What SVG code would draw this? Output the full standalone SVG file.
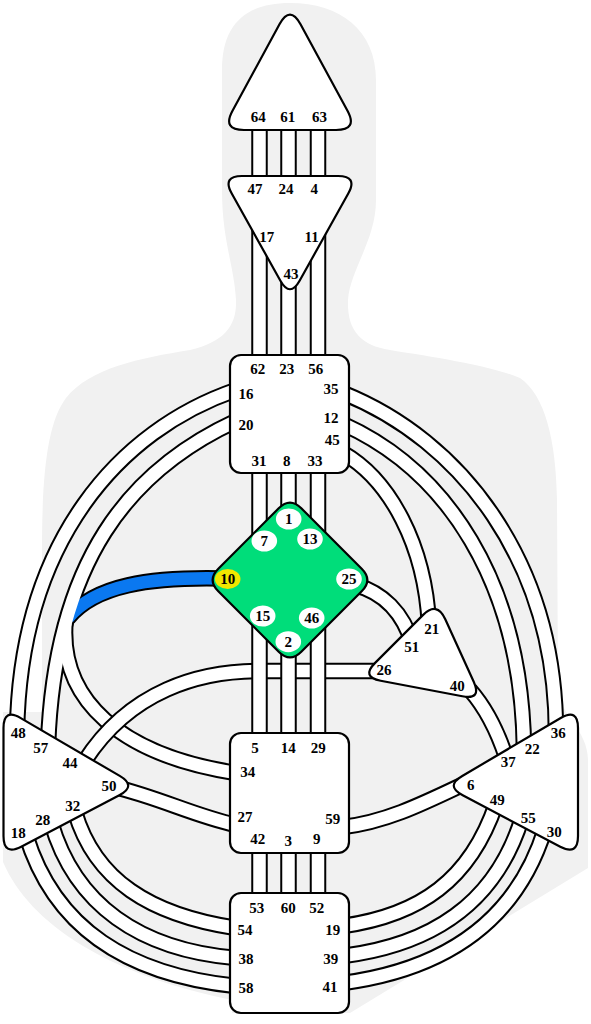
<svg xmlns="http://www.w3.org/2000/svg" width="591" height="1024" viewBox="0 0 591 1024">
<style>
.cb{fill:none;stroke:#000;stroke-width:16.5}
.cw{fill:none;stroke:#fff;stroke-width:12.5}
.cblue{fill:none;stroke:#0a78f0;stroke-width:12.5}
.node{fill:#fff;stroke:#000;stroke-width:2.2}
.gc{fill:#00dd7a;stroke:#000;stroke-width:2.2}
.dot{fill:#fff}
.act{fill:#f2e600}
text{font-family:"Liberation Serif","Times New Roman",serif;font-weight:bold;font-size:15px;text-anchor:middle;fill:#000}
</style>
<defs>
<path id="c16" d="M 236 390 C 120 430, 20 540, 17 732"/>
<path id="c20" d="M 236 421 C 130 470, 55 560, 48 745"/>
<path id="c34" d="M 65.4 623.2 C 60 700, 120 755, 236 773"/>
<path id="c10" d="M 222 578.5 C 150 577, 95 585, 68 618"/>
<path id="c44" d="M 84 762 C 130 690, 200 671, 260 671 L 378 671"/>
<path id="c27" d="M 115 787 C 160 798, 195 816, 236 825"/>
<path id="c32" d="M 75 812 C 95 880, 150 915, 236 928"/>
<path id="c28" d="M 51 822 C 75 905, 140 950, 236 958"/>
<path id="c18" d="M 26 835 C 55 930, 130 975, 236 986"/>
<path id="c35" d="M 343 393 C 460 440, 556 560, 556 734"/>
<path id="c12" d="M 343 424 C 445 470, 522 580, 524 750"/>
<path id="c45" d="M 343 453 C 390 480, 425 545, 429 625"/>
<path id="c40" d="M 470 690 Q 492 715 506 757"/>
<path id="c25" d="M 355 585 C 382 592, 403 612, 413 645"/>
<path id="c59" d="M 343 827 C 385 822, 420 805, 462 785"/>
<path id="c49" d="M 496 804 C 470 880, 420 915, 343 926"/>
<path id="c55" d="M 522 818 C 495 905, 430 945, 343 956"/>
<path id="c30" d="M 545 829 C 515 925, 440 970, 343 983"/>
<path id="vv" d="M 259.5 120 V 190 M 288.5 120 V 190 M 318 120 V 190 M 259.5 200 V 362 M 288.5 280 V 362 M 318 200 V 362 M 259.5 465 V 560 M 288.5 465 V 520 M 318 465 V 560 M 259.5 600 V 740 M 288.5 640 V 740 M 318 600 V 740 M 259.5 845 V 900 M 288.5 845 V 900 M 318 845 V 900"/>
</defs>

<path id="silhouette" fill="#f1f1f1" d="M 290 3 C 245 3, 222 25, 222 70 L 222 190 C 222 240, 234 265, 236 300 C 237 325, 225 342, 190 350 C 140 358, 90 368, 66 398 C 48 422, 42 470, 42 550 L 42 712 L 3 712 L 3 862 C 30 925, 110 975, 232 1000 L 232 1013 L 350 1013 L 588 868 L 588 760 C 588 730, 560 715, 558 690 L 557 500 C 556 440, 545 395, 520 378 C 490 365, 420 355, 390 350 C 360 345, 347 330, 348 300 C 350 270, 376 240, 376 200 L 376 80 C 376 30, 340 3, 290 3 Z"/>

<g id="connectors">
<use href="#c16" class="cb"/><use href="#c16" class="cw"/>
<use href="#c20" class="cb"/><use href="#c34" class="cb"/><use href="#c10" class="cb"/>
<use href="#c10" class="cblue"/><use href="#c20" class="cw"/><use href="#c34" class="cw"/>
<use href="#c44" class="cb"/><use href="#c44" class="cw"/>
<use href="#c27" class="cb"/><use href="#c27" class="cw"/>
<use href="#c32" class="cb"/><use href="#c32" class="cw"/>
<use href="#c28" class="cb"/><use href="#c28" class="cw"/>
<use href="#c18" class="cb"/><use href="#c18" class="cw"/>
<use href="#c35" class="cb"/><use href="#c35" class="cw"/>
<use href="#c12" class="cb"/><use href="#c12" class="cw"/>
<use href="#c45" class="cb"/><use href="#c45" class="cw"/>
<use href="#c40" class="cb"/><use href="#c40" class="cw"/>
<use href="#c25" class="cb"/><use href="#c25" class="cw"/>
<use href="#c59" class="cb"/><use href="#c59" class="cw"/>
<use href="#c49" class="cb"/><use href="#c49" class="cw"/>
<use href="#c55" class="cb"/><use href="#c55" class="cw"/>
<use href="#c30" class="cb"/><use href="#c30" class="cw"/>
<use href="#vv" class="cb"/><use href="#vv" class="cw"/>
</g>

<g id="head">
<path class="node" d="M 300.52 24.32 L 347.48 110.68 Q 358 130 336 130 L 244 130 Q 222 130 232.52 110.68 L 279.48 24.32 Q 290 5 300.52 24.32 Z"/>
<text x="258.3" y="121.7">64</text><text x="287.7" y="121.7">61</text><text x="319.5" y="121.7">63</text>
</g>

<g id="ajna">
<path class="node" d="M 242 176 L 338 176 Q 358 176 348.26 193.47 L 299.74 280.53 Q 290 298 280.26 280.53 L 231.74 193.47 Q 222 176 242 176 Z"/>
<text x="255" y="194.3">47</text><text x="286" y="194.3">24</text><text x="314.3" y="194.3">4</text>
<text x="266.7" y="242.3">17</text><text x="311.7" y="242.3">11</text><text x="291" y="279">43</text>
</g>

<g id="throat">
<rect class="node" x="230" y="355" width="119" height="118" rx="11"/>
<text x="257.7" y="374.3">62</text><text x="286.7" y="374.3">23</text><text x="315.7" y="374.3">56</text>
<text x="246" y="399.3">16</text><text x="331" y="394.3">35</text>
<text x="246" y="430">20</text><text x="331" y="422.7">12</text><text x="332.3" y="445">45</text>
<text x="259" y="465.7">31</text><text x="286.7" y="465.7">8</text><text x="315" y="465.7">33</text>
</g>

<g id="g-center">
<path class="gc" d="M 301.31 508.31 L 361.69 568.69 Q 373 580 361.69 591.31 L 301.31 651.69 Q 290 663 278.69 651.69 L 218.31 591.31 Q 207 580 218.31 568.69 L 278.69 508.31 Q 290 497 301.31 508.31 Z"/>
<ellipse class="dot" cx="288.7" cy="519" rx="12.8" ry="10.5"/>
<ellipse class="dot" cx="264.3" cy="541" rx="12.8" ry="10.5"/>
<ellipse class="dot" cx="310" cy="539" rx="12.8" ry="10.5"/>
<ellipse class="act" cx="227.7" cy="579" rx="12.8" ry="10"/>
<ellipse class="dot" cx="349" cy="579" rx="12.8" ry="10.5"/>
<ellipse class="dot" cx="262.7" cy="616" rx="12.8" ry="10.5"/>
<ellipse class="dot" cx="311.7" cy="618" rx="12.8" ry="10.5"/>
<ellipse class="dot" cx="288.3" cy="641.7" rx="12.8" ry="10.5"/>
<text x="288.7" y="524">1</text><text x="264.3" y="546">7</text><text x="310" y="544">13</text>
<text x="227.7" y="584">10</text><text x="349" y="584">25</text>
<text x="262.7" y="621">15</text><text x="311.7" y="623">46</text><text x="288.3" y="646.7">2</text>
</g>

<g id="heart">
<path class="node" d="M 445.28 619.21 L 473.72 681.79 Q 482 700 462.35 696.27 L 380.65 680.73 Q 361 677 375.14 662.86 L 422.86 615.14 Q 437 601 445.28 619.21 Z"/>
<text x="431.7" y="634.3">21</text><text x="411.7" y="651.7">51</text><text x="384" y="675">26</text><text x="457.3" y="691">40</text>
</g>

<g id="spleen">
<path class="node" d="M 20.77 718.09 L 119.73 775.91 Q 137 786 119.29 795.29 L 21.21 846.71 Q 3.5 856 3.5 836 L 3.5 728 Q 3.5 708 20.77 718.09 Z"/>
<text x="18.3" y="737.7">48</text><text x="40.7" y="752.7">57</text><text x="70" y="767.7">44</text><text x="109" y="791">50</text>
<text x="72.7" y="811">32</text><text x="42.7" y="825">28</text><text x="18.3" y="838.3">18</text>
</g>

<g id="solar-plexus">
<path class="node" d="M 462.28 775.94 L 560.72 718.06 Q 578 708 578 728 L 578 836 Q 578 856 560.27 846.74 L 462.73 795.26 Q 445 786 462.28 775.94 Z"/>
<text x="558.3" y="737.7">36</text><text x="532.3" y="754">22</text><text x="508.3" y="766.7">37</text><text x="470.7" y="790">6</text>
<text x="497.3" y="805">49</text><text x="528.3" y="823.3">55</text><text x="554.3" y="836.7">30</text>
</g>

<g id="sacral">
<rect class="node" x="230" y="733" width="119" height="120" rx="11"/>
<text x="255" y="752.7">5</text><text x="288.3" y="752.7">14</text><text x="318.3" y="752.7">29</text>
<text x="247.7" y="777.3">34</text><text x="245" y="822.3">27</text><text x="332.7" y="824.3">59</text>
<text x="257.7" y="844.3">42</text><text x="288.3" y="845.7">3</text><text x="316.7" y="844">9</text>
</g>

<g id="root">
<rect class="node" x="230" y="893" width="119" height="120" rx="11"/>
<text x="256.7" y="913.3">53</text><text x="288.3" y="913.3">60</text><text x="316.7" y="913.3">52</text>
<text x="245" y="935">54</text><text x="332.7" y="935">19</text>
<text x="246" y="964">38</text><text x="330.7" y="964">39</text>
<text x="246" y="993.3">58</text><text x="330" y="992.3">41</text>
</g>
</svg>
